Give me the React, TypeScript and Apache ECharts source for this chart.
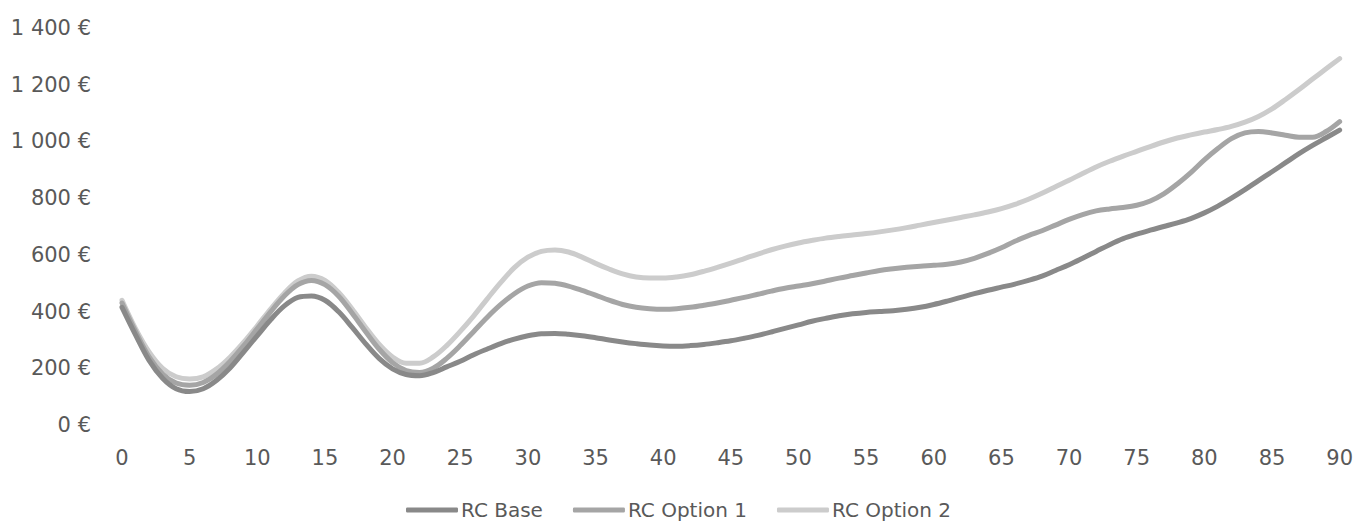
import React, { useEffect, useRef } from "react";
import * as echarts from "echarts";

const xValues: number[] = Array.from({ length: 91 }, (_, i) => i);

const rcBase: number[] = [
  415, 318, 228, 165, 128, 118, 128, 158, 202, 258,
  315, 372, 420, 450, 455, 440, 400, 345, 287, 235,
  198, 178, 174, 185, 205, 225, 248, 268, 287, 303,
  315, 322, 323, 320, 315, 308, 300, 293, 287, 282,
  279, 278, 280, 284, 290, 297, 306, 316, 328, 341,
  353, 366, 376, 385, 392, 397, 400, 403, 408, 415,
  425, 437, 450, 463, 475, 486, 497, 510, 525, 545,
  565, 588, 612, 636, 657, 673, 687, 700, 713, 728,
  748, 772, 800, 830, 862, 893, 925, 957, 986, 1013,
  1040,
];

const rcOption1: number[] = [
  430, 330, 240, 180, 148, 140, 150, 180, 225, 280,
  340, 400, 455, 495, 510, 495, 455, 395, 330, 268,
  220, 192, 185, 200, 235, 280, 330, 380, 425, 463,
  490, 502, 500, 490, 475, 458, 440, 425, 415, 410,
  408, 410, 415, 422, 430, 440, 450, 461, 472, 482,
  490, 498, 508, 518, 527, 536, 545, 551, 556, 560,
  563, 567, 575, 588, 605, 625, 648, 668, 685, 705,
  725, 742, 755, 762, 767, 775, 790, 815, 850, 890,
  935, 975, 1010, 1030, 1035, 1030, 1022, 1015, 1015, 1035,
  1070,
];

const rcOption2: number[] = [
  440, 340, 258, 200, 170, 162, 170, 198, 240, 292,
  350, 410, 465, 508, 525, 510, 468, 410, 345, 285,
  240, 218, 218, 240, 280, 330, 385, 445, 503, 555,
  592, 612, 617, 610, 592, 570, 550, 533, 522, 518,
  518, 522, 530, 542, 556, 571, 587, 603, 618, 631,
  642, 651, 659, 665, 670, 675, 681, 688, 696, 705,
  714, 723, 732, 741, 751, 763, 778, 796, 817, 840,
  863, 887, 910, 930, 948, 965, 982, 998, 1012, 1023,
  1033, 1042, 1053, 1068, 1088, 1115, 1148, 1183, 1220, 1256,
  1292,
];

const seriesNames: string[] = ["RC Base", "RC Option 1", "RC Option 2"];
const seriesColors: string[] = ["#898989", "#a5a5a5", "#cccccc"];

const FONT = "DejaVu Sans";
const TEXT_COLOR = "#595959";

function formatEuro(v: number): string {
  const s = Math.round(v).toString().replace(/\B(?=(\d{3})+(?!\d))/g, " ");
  return s + " €";
}

export default function App() {
  const ref = useRef<HTMLDivElement>(null);

  useEffect(() => {
    if (!ref.current) return;
    const chart = echarts.init(ref.current, undefined, { renderer: "svg" });
    const data = [rcBase, rcOption1, rcOption2];
    chart.setOption({
      animation: false,
      backgroundColor: "#ffffff",
      textStyle: { fontFamily: FONT },
      grid: { left: 122, right: 16, top: 28, bottom: 98, containLabel: false },
      legend: {
        top: 495,
        left: 401,
        itemWidth: 52,
        itemHeight: 5,
        itemGap: 30,
        icon: "roundRect",
        textStyle: { fontFamily: FONT, fontSize: 20, color: TEXT_COLOR, padding: [0, 0, 0, -2] },
        data: seriesNames,
      },
      xAxis: {
        type: "category",
        data: xValues.map(String),
        boundaryGap: false,
        axisLine: { show: false },
        axisTick: { show: false },
        splitLine: { show: false },
        axisLabel: {
          interval: 4,
          margin: 22,
          fontFamily: FONT,
          fontSize: 21,
          color: TEXT_COLOR,
        },
      },
      yAxis: {
        type: "value",
        min: 0,
        max: 1400,
        interval: 200,
        axisLine: { show: false },
        axisTick: { show: false },
        splitLine: { show: false },
        axisLabel: {
          margin: 31,
          fontFamily: FONT,
          fontSize: 21,
          color: TEXT_COLOR,
          formatter: (v: number) => formatEuro(v),
        },
      },
      series: data.map((d, i) => ({
        name: seriesNames[i],
        type: "line",
        data: d,
        smooth: 0.35,
        showSymbol: false,
        symbol: "none",
        z: 3 - i,
        lineStyle: { width: 5, color: seriesColors[i], cap: "round", join: "round" },
        itemStyle: { color: seriesColors[i] },
      })),
    });
    return () => chart.dispose();
  }, []);

  return (
    <div
      ref={ref}
      style={{ position: "absolute", left: 0, top: 0, width: 1356, height: 523 }}
    />
  );
}
